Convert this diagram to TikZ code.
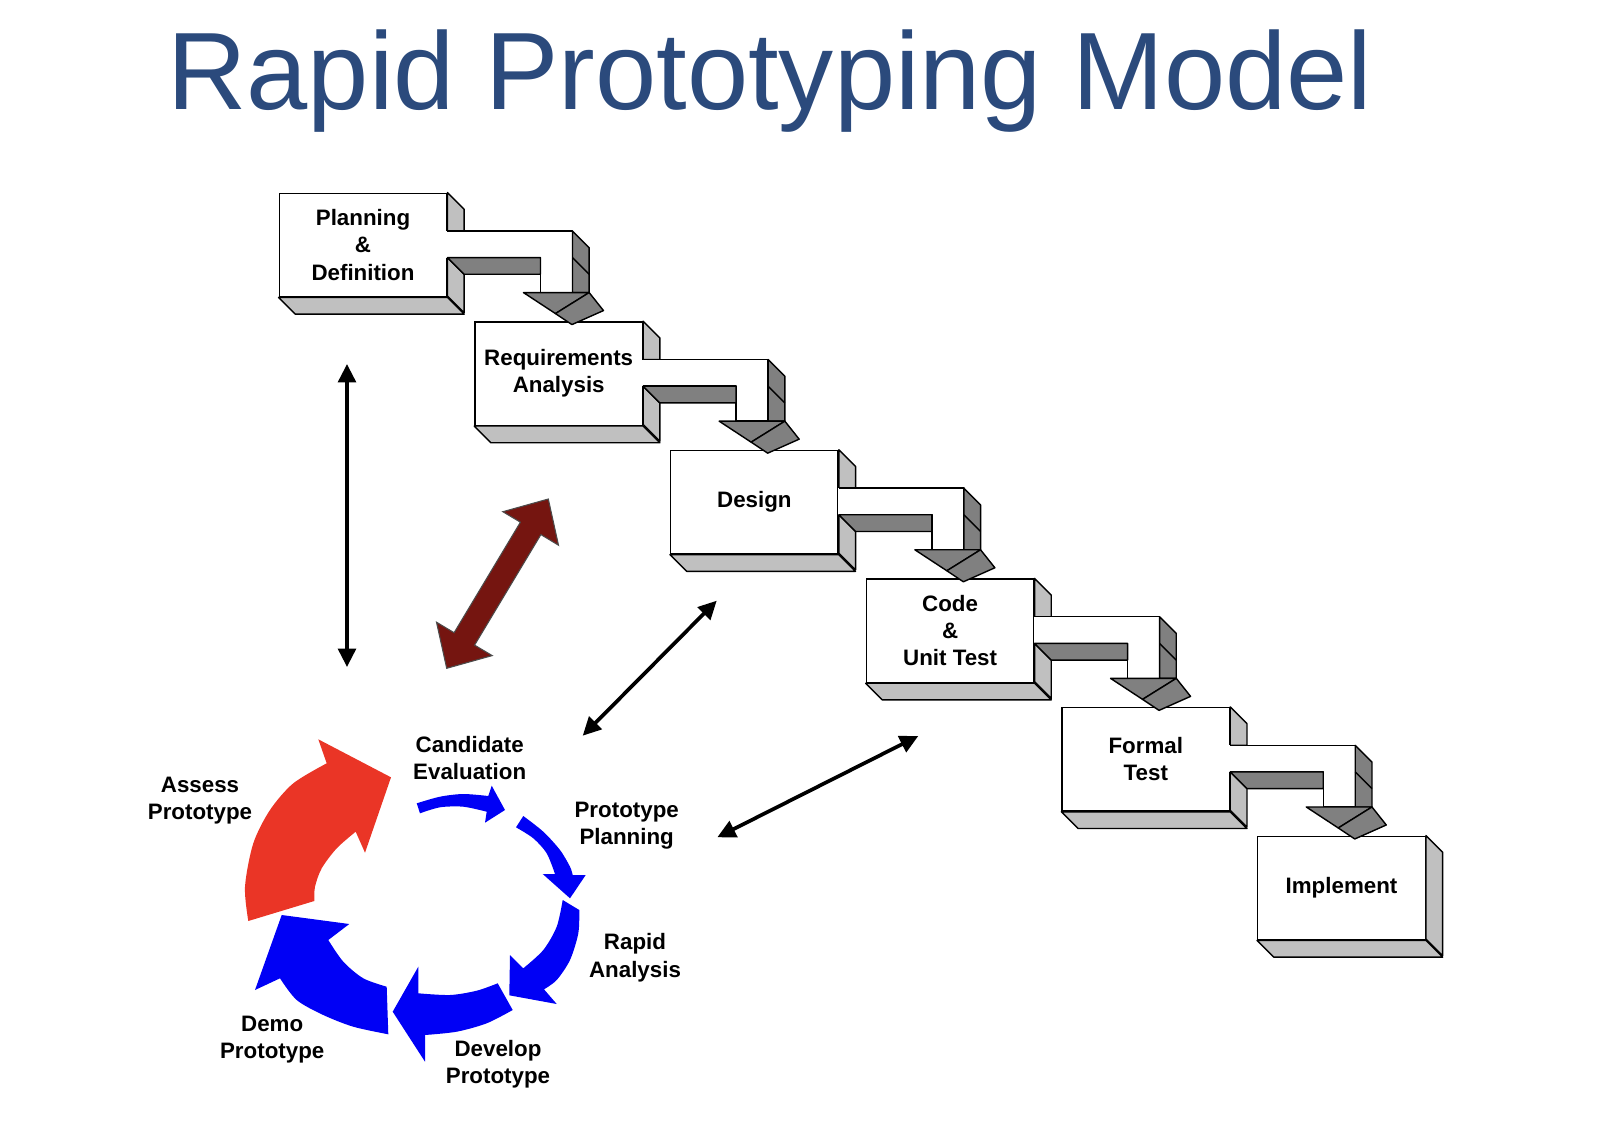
\documentclass[tikz,border=0pt]{standalone}
\usepackage{fontspec}
\setmainfont{Liberation Sans}
\usetikzlibrary{arrows.meta,calc}
\definecolor{titleblue}{RGB}{43,74,124}
\definecolor{sidegray}{RGB}{192,192,192}
\definecolor{midgray}{RGB}{128,128,128}
\definecolor{cycblue}{RGB}{0,0,245}
\definecolor{cycred}{RGB}{234,53,38}
\definecolor{maroonarrow}{RGB}{117,21,16}
\begin{document}
\begin{tikzpicture}[x=0.01cm,y=-0.01cm,
  box/.style={draw, fill=white, line width=0.4pt, minimum width=1.674cm, minimum height=1.034cm,
    inner sep=0pt, font=\fontsize{6.35}{7.7}\selectfont\bfseries, align=center},
  face/.style={draw, line width=0.4pt, line join=round},
  lab/.style={font=\fontsize{6.35}{7.7}\selectfont\bfseries, align=center, inner sep=0pt},
  dblarrow/.style={line width=1.05pt, {Triangle[length=5.2pt,width=5pt]}-{Triangle[length=5.2pt,width=5pt]}}]
\useasboundingbox (0,0) rectangle (1600,1124);

% title
\node[font=\fontsize{31.3}{36}\selectfont, text=titleblue, anchor=base, inner sep=0pt] (title) at (770,110) {Rapid Prototyping Model};

% boxes
\foreach \n/\k/\t in {pd/0/{Planning\\\&\\Definition}, ra/1/{Requirements\\Analysis}, de/2/Design, cu/3/{Code\\\&\\Unit Test}, ft/4/{Formal\\Test}, im/5/Implement}{
  \node[box] (\n) at ({363+195.7*\k},{245+128.6*\k}) {\t};
  \draw[face,fill=sidegray] (\n.south west) -- (\n.south east) -- ++(16.7,16.7) -- ($(\n.south west)+(16.7,16.7)$) -- cycle;
}
% side face of last box
\begin{scope}[shift={(im.north east)}]
  \draw[face,fill=sidegray] (0,0) -- (16.7,16.7) -- (16.7,120.1) -- (0,103.4) -- cycle;
\end{scope}

% 3D connectors
\foreach \a in {pd,ra,de,cu,ft}{
  \begin{scope}[shift={(\a.north east)}]
    \draw[face,fill=sidegray] (0,0) -- (16.7,16.7) -- (16.7,38.4) -- (0,38.4) -- cycle;
    \draw[face,fill=sidegray] (0,65) -- (16.7,81.7) -- (16.7,120.1) -- (0,103.4) -- cycle;
    \fill[white] (-1,38.4) rectangle (125,65);
    \fill[white] (93,38.4) rectangle (125,100);
    \draw[face] (0,38.4) -- (125,38.4) -- (125,100) -- (93,100) -- (93,65) -- (0,65);
    \draw[face,fill=midgray] (0,65) -- (93,65) -- (93,81.7) -- (16.7,81.7) -- cycle;
    \draw[face,fill=midgray] (125,38.4) -- (141.7,55.1) -- (141.7,100) -- (125,100) -- cycle;
    \draw[face] (125,65) -- (141.7,81.7);
    \draw[face,fill=midgray] (76,100) -- (108,121) -- (141.7,100) -- cycle;
    \draw[face,fill=midgray] (108,121) -- (124.5,132) -- (156,118) -- (141.7,100) -- cycle;
  \end{scope}
}

% thin double arrows
\coordinate (a1t) at (347,364);
\coordinate (a1b) at (347,667);
\coordinate (a2t) at (716.7,600.7);
\coordinate (a2b) at (582.7,735.7);
\coordinate (a3t) at (918.3,736);
\coordinate (a3b) at (717.3,837.3);
\draw[dblarrow] (a1t) -- (a1b);
\draw[dblarrow] (a2t) -- (a2b);
\draw[dblarrow] (a3t) -- (a3b);

% thick maroon double arrow
\draw[fill=maroonarrow, draw=black!70, line width=0.3pt, line join=miter]
  (548.3,499) -- (558.5,545.2) -- (540.9,534.6) -- (474.6,645.1) -- (492.2,655.6)
  -- (446.7,668.3) -- (436.5,622.2) -- (454.1,632.7) -- (520.4,522.2) -- (502.8,511.7) -- cycle;

% cycle arrows
% Assess (red)
\fill[cycred] plot[smooth] coordinates {(248.3,921) (245,886.7) (253.3,843.3) (270,810) (293.3,783.3) (326.7,763.3)}
  -- (318.3,739.3) -- (391,777.3) -- (365,852.7) -- (355.7,831.7)
  -- plot[smooth] coordinates {(355.7,831.7) (336.7,848.3) (321.7,868.3) (315,886.7) (314.3,901)} -- cycle;
% Demo
\fill[cycblue] plot[smooth] coordinates {(388.3,1034.3) (353.3,1026.7) (323.3,1015) (296.7,1000) (280,978.3)}
  -- (255,990) -- (281.7,915) -- (349.3,924) -- (328.3,940)
  -- plot[smooth] coordinates {(328.3,940) (343.3,961.7) (363.3,978.3) (386.7,986.7)} -- cycle;
% Develop
\fill[cycblue] plot[smooth] coordinates {(512.7,1010) (486.7,1023.3) (456.7,1031.7) (425,1035)}
  -- (425,1061.7) -- (392.7,1011.7) -- (418.3,966.7) -- (418.3,993.3)
  -- plot[smooth] coordinates {(418.3,993.3) (450,995) (476.7,990.7) (497.7,983.3)} -- cycle;
% Rapid analysis
\fill[cycblue] plot[smooth] coordinates {(579.3,910) (578.3,933.3) (570,960) (556.7,980) (544,989.3)}
  -- (556.7,1004) -- (509.3,995.3) -- (510,955) -- (523.3,968.3)
  -- plot[smooth] coordinates {(523.3,968.3) (543.3,950) (556.7,926.7) (562.7,900)} -- cycle;
% Prototype planning
\fill[cycblue] plot[smooth] coordinates {(523.3,816) (543.3,831.7) (560,850) (570,866.7) (572.7,875)}
  -- (585.7,875) -- (570,898.3) -- (542.7,874) -- (555,874)
  -- plot[smooth] coordinates {(555,874) (546.7,853.3) (533.3,838.3) (516,827.3)} -- cycle;
% Candidate evaluation
\fill[cycblue] plot[smooth] coordinates {(416.7,803.3) (440,796.7) (463.3,794) (488.3,796)}
  -- (491.7,785.7) -- (505,810) -- (485,822.7) -- (486.7,811.7)
  -- plot[smooth] coordinates {(486.7,811.7) (463.3,806.7) (440,807.3) (420,813.3)} -- cycle;

% cycle labels
\node[lab] (lce) at (469.7,757.7) {Candidate\\Evaluation};
\node[lab] (lpp) at (626.7,825.7) {Prototype\\Planning};
\node[lab] (lra) at (635,957.7) {Rapid\\Analysis};
\node[lab] (ldp) at (498,1064.5) {Develop\\Prototype};
\node[lab] (ldm) at (272.2,1039.4) {Demo\\Prototype};
\node[lab] (las) at (200,800.7) {Assess\\Prototype};
\end{tikzpicture}
\end{document}
